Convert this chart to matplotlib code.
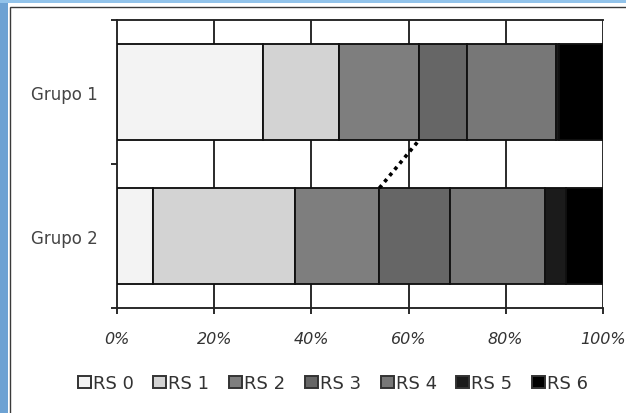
import matplotlib
matplotlib.use("Agg")
import matplotlib.pyplot as plt
import numpy as np
from matplotlib.patches import Rectangle

plt.rcParams['font.family'] = ['DejaVu Sans']

groups = ["Grupo 2", "Grupo 1"]
series = ["RS 0", "RS 1", "RS 2", "RS 3", "RS 4", "RS 5", "RS 6"]
grupo1 = [30.1, 15.5, 16.6, 9.8, 18.3, 0.8, 8.9]
grupo2 = [7.3, 29.3, 17.4, 14.5, 19.6, 4.3, 7.6]
colors = ["#f3f3f3", "#d3d3d3", "#7e7e7e", "#666666", "#777777", "#1b1b1b", "#000000"]
xticks = [0, 20, 40, 60, 80, 100]
xticklabels = ["0%", "20%", "40%", "60%", "80%", "100%"]

W, H = 626, 414
fig = plt.figure(figsize=(W / 100, H / 100), dpi=100)
fig.patch.set_facecolor("white")

# blue frame around the picture
fig.patches.append(Rectangle((0, 0), 8 / W, 1, transform=fig.transFigure,
                             facecolor="#6da2d3", edgecolor="none", zorder=-3))
fig.patches.append(Rectangle((0, 1 - 3.5 / H), 1, 3.5 / H, transform=fig.transFigure,
                             facecolor="#92c3ea", edgecolor="none", zorder=-3))
fig.patches.append(Rectangle((9.5 / W, -0.05), 1.1, 1 - 7.5 / H + 0.05,
                             transform=fig.transFigure, facecolor="white",
                             edgecolor="#3a3a3a", linewidth=1.0, zorder=-2))

ax = fig.add_axes([117.3 / W, 1 - 309.3 / H, (602.7 - 117.3) / W, (309.3 - 20.7) / H])
ax.set_zorder(1)
ax.set_facecolor("white")

lw = 1.35
data = np.array([grupo2, grupo1])
totals = data.sum(axis=1, keepdims=True)
pct = data / totals * 100
ypos = np.arange(len(groups))
h = 0.667
left = np.zeros(len(groups))
handles = []
for i, name in enumerate(series):
    b = ax.barh(ypos, pct[:, i], left=left, height=h, color=colors[i],
                edgecolor="#111111", linewidth=lw, label=name, zorder=3)
    handles.append(b)
    left = left + pct[:, i]

# series line between RS 2 / RS 3 boundary
cum = np.cumsum(pct, axis=1)
ax.plot([cum[0, 2], cum[1, 2]], [ypos[0] + h / 2, ypos[1] - h / 2],
        color="black", linestyle=(0, (1, 1.2)), linewidth=2.6, zorder=4)

ax.set_xlim(0, 100)
ax.set_ylim(-0.5, 1.5)
ax.set_xticks(xticks)
ax.set_xticklabels(xticklabels, fontsize=11.5, style="italic", color="#333333")
ax.tick_params(axis="x", direction="out", length=4.5, width=lw, pad=12, color="#222222")

ax.set_yticks(ypos)
ax.set_yticklabels(groups, fontsize=12, color="#444444")
ax.tick_params(axis="y", which="major", length=0, pad=14)
ax.set_yticks([-0.5, 0.5, 1.5], minor=True)
ax.tick_params(axis="y", which="minor", direction="out", length=4.5, width=lw, color="#222222")

for x in xticks[1:]:
    ax.axvline(x, color="#222222", linewidth=lw, zorder=1)

for s in ["left", "bottom", "top"]:
    ax.spines[s].set_color("#222222")
    ax.spines[s].set_linewidth(lw)
ax.spines["right"].set_visible(False)

leg = fig.legend(handles=handles, labels=series, loc="center",
                 bbox_to_anchor=(333 / W, 1 - 384 / H), ncol=7, frameon=False,
                 fontsize=13, handlelength=0.72, handleheight=0.67,
                 handletextpad=0.12, columnspacing=1.08, borderpad=0)
for t in leg.get_texts():
    t.set_color("#333333")
for p in leg.get_patches():
    p.set_edgecolor("#333333")
    p.set_linewidth(1.4)

fig.savefig("out.png", dpi=100)
